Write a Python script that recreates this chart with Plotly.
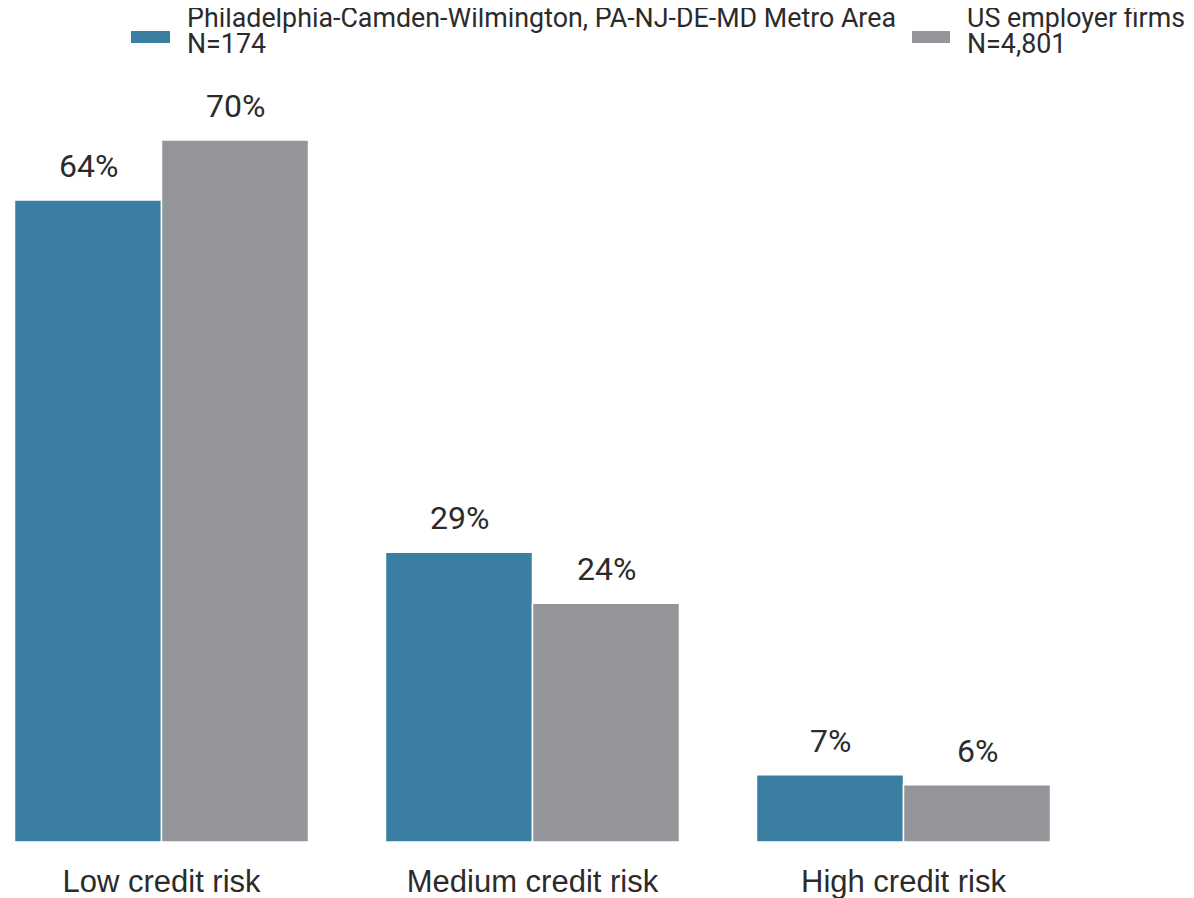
import plotly.graph_objects as go

categories = ["Low credit risk", "Medium credit risk", "High credit risk"]
metro_name = "Philadelphia-Camden-Wilmington, PA-NJ-DE-MD Metro Area"
metro_n = "N=174"
us_name = "US employer firms"
us_n = "N=4,801"
metro_values = [64.0, 28.9, 6.7]
us_values = [70.0, 23.8, 5.7]
metro_labels = ["64%", "29%", "7%"]
us_labels = ["70%", "24%", "6%"]

BLUE = "#3a7ea1"
GRAY = "#939598"
TEXT = "#2b2b2b"
PAGE = 8  # body margin of the html page
W, H = 1194 - 2 * PAGE, 898 - PAGE
BOTTOM = 56
BARGAP = 0.2075
PX_PER_UNIT = 10.03
PLOT_H = H - BOTTOM
GROUP0 = 161.5 - PAGE
GROUP_STEP = 371

fig = go.Figure()
fig.add_trace(go.Bar(x=categories, y=metro_values, name=metro_name,
                     marker=dict(color=BLUE, line=dict(color="white", width=1.5)),
                     showlegend=False, hoverinfo="skip"))
fig.add_trace(go.Bar(x=categories, y=us_values, name=us_name,
                     marker=dict(color=GRAY, line=dict(color="white", width=1.5)),
                     showlegend=False, hoverinfo="skip"))

off = (1 - BARGAP) / 4
for i in range(len(categories)):
    for val, lab, sgn in ((metro_values[i], metro_labels[i], -1), (us_values[i], us_labels[i], 1)):
        fig.add_annotation(x=i + sgn * off, y=val, xref="x", yref="y", text=lab,
                           showarrow=False, yanchor="bottom", yshift=13,
                           font=dict(family="Roboto", size=32, color=TEXT))

# custom legend (positions in page pixels of the reference)
def px2x(px):
    return (px - PAGE) / W

def py2y(py):
    return (PLOT_H - (py - PAGE)) / PLOT_H

legend_items = [(131, 170, 185, BLUE, metro_name, metro_n), (912, 950, 965, GRAY, us_name, us_n)]
for sx0, sx1, tx, col, name, n in legend_items:
    fig.add_shape(type="rect", xref="paper", yref="paper", x0=px2x(sx0), x1=px2x(sx1),
                  y0=py2y(43), y1=py2y(31), fillcolor=col, line=dict(width=0))
    for txt, cy in ((name, 17.5), (n, 44)):
        fig.add_annotation(x=px2x(tx), y=py2y(cy), xref="paper", yref="paper", text=txt,
                           showarrow=False, xanchor="left", yanchor="middle",
                           font=dict(family="Roboto", size=26.8, color=TEXT))

x0 = -GROUP0 / GROUP_STEP
x1 = (W - GROUP0) / GROUP_STEP
fig.update_layout(
    width=W, height=H,
    margin=dict(l=0, r=0, t=0, b=BOTTOM, autoexpand=False),
    barmode="group", bargap=BARGAP, bargroupgap=0,
    plot_bgcolor="white", paper_bgcolor="white",
    xaxis=dict(range=[x0, x1], showgrid=False, zeroline=False, showline=False, ticks="",
               automargin=False,
               tickfont=dict(family="Liberation Sans, Arial", size=31, color=TEXT),
               ticklabelstandoff=18),
    yaxis=dict(range=[0, PLOT_H / PX_PER_UNIT], visible=False, showgrid=False, automargin=False),
)

fig.write_html("out.html")
